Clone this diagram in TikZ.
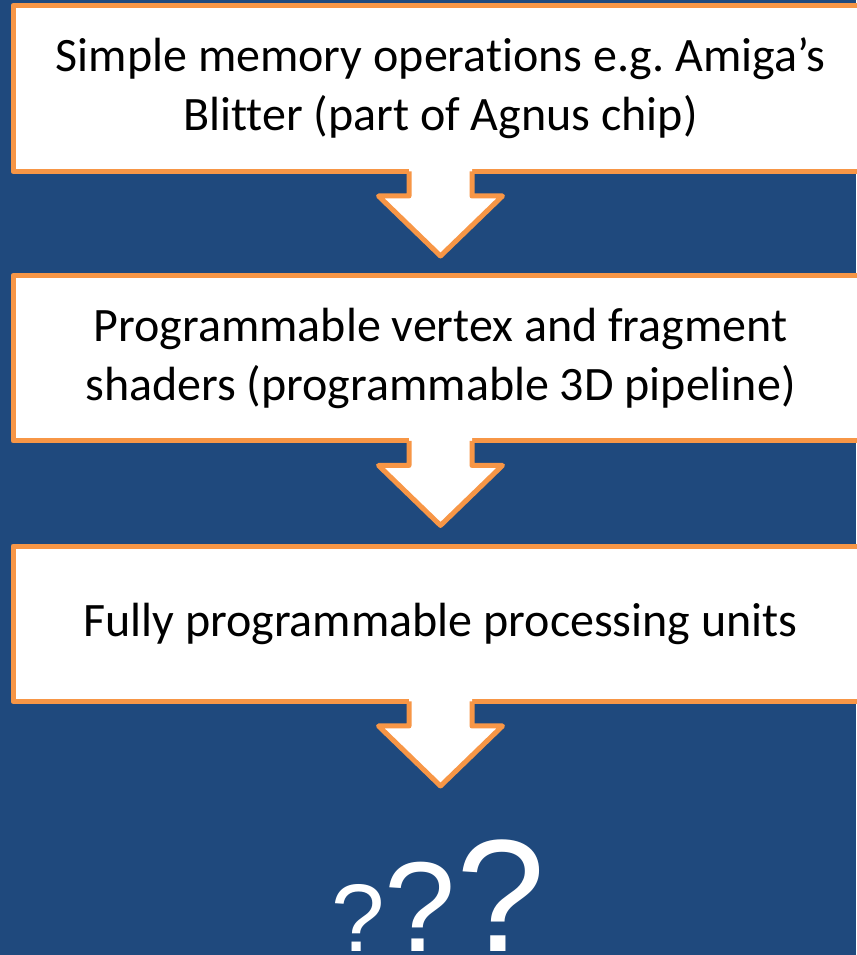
\documentclass[tikz,border=0pt]{standalone}
\usepackage{fontspec}
\setmainfont{Carlito}[RawFeature={-liga,-dlig,-clig}]
\newfontfamily\qfont{Liberation Sans}
\usetikzlibrary{calc}
\definecolor{slatebg}{HTML}{1F497D}
\definecolor{accentorange}{HTML}{F79646}
\frenchspacing
\begin{document}
\begin{tikzpicture}[x=0.75pt,y=-0.75pt,
  stagebox/.style={draw=accentorange, fill=white, line width=3.75pt,
    line join=round, outer sep=0pt, inner sep=0pt,
    minimum width=641.25pt, align=center, text=black,
    font=\fontsize{36}{44}\selectfont},
  arrowline/.style={draw=accentorange, line width=3.75pt, line join=round},
  qmark/.style={anchor=base, inner sep=0pt, text depth=0pt, text=white}]
  % page and background
  \useasboundingbox (0,0) rectangle (856,955);
  \fill[slatebg] (0,0) rectangle (856,955);

  % the three stages
  \node[stagebox, minimum height=124.5pt] (box1) at (440.5,88.5)
    {Simple memory operations e.g. Amiga’s\\Blitter (part of Agnus chip)};
  \node[stagebox, minimum height=124pt] (box2) at (440.5,358.25)
    {Programmable vertex and fragment\\shaders (programmable 3D pipeline)};
  \node[stagebox, minimum height=116.6pt] (box3) at (440.5,623.75)
    {Fully programmable processing units};

  % block arrows below each stage
  \foreach \b in {box1,box2,box3}{
    \coordinate (\b-top) at (\b.south);
    \fill[white] ($(\b-top)+(-31.5,-3)$) -- ++(0,27.5) -- ++(-30.5,0)
      -- ++(62,60) -- ++(62,-60) -- ++(-30.5,0) -- ++(0,-27.5) -- cycle;
    \draw[arrowline] ($(\b-top)+(-31.5,0)$) -- ++(0,24.5) -- ++(-30.5,0)
      -- ++(62,60) -- ++(62,-60) -- ++(-30.5,0) -- ++(0,-24.5);
  }

  % growing question marks
  \node[qmark, font=\qfont\fontsize{72}{72}\selectfont] (q1) at (358.5,951) {?};
  \node[qmark, font=\qfont\fontsize{96}{96}\selectfont] (q2) at (420.5,951) {?};
  \node[qmark, font=\qfont\fontsize{120}{120}\selectfont] (q3) at (500.5,951) {?};
\end{tikzpicture}
\end{document}
